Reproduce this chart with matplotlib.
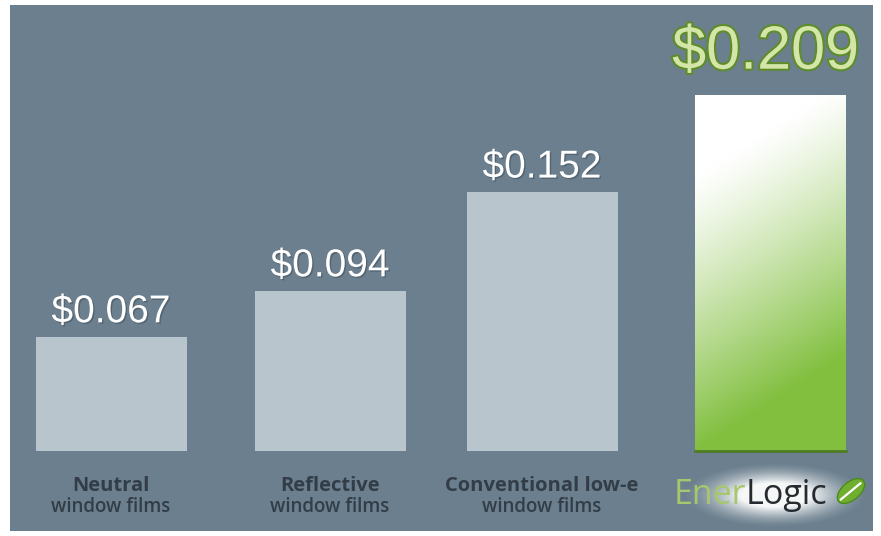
import numpy as np
import matplotlib
matplotlib.use("Agg")
import matplotlib.pyplot as plt
import matplotlib.patheffects as pe
from matplotlib.patches import Ellipse

# data
categories_top = ["Neutral", "Reflective", "Conventional low-e"]
categories_bottom = ["window films", "window films", "window films"]
values = [0.067, 0.094, 0.152, 0.209]
value_labels = ["$0.067", "$0.094", "$0.152", "$0.209"]

bg = "#6b7f8e"
bar_grey = "#b9c5cc"

fig = plt.figure(figsize=(8.81, 5.36), dpi=100)
fig.patch.set_facecolor("white")

W, H = 881, 536
# panel in pixels: x 10..873, y 5..531 (from top)
ax = fig.add_axes([10 / W, (H - 531) / H, 863 / W, 526 / H])
ax.set_facecolor(bg)

# bar centres in pixel units (layout)
x = np.array([111, 330, 542, 770], dtype=float)
px_per_y = 1703.0
xlim = (10, 873)
ylim = (-(531 - 451) / px_per_y, (451 - 5) / px_per_y)
ax.set_xlim(*xlim)
ax.set_ylim(*ylim)
for s in ax.spines.values():
    s.set_visible(False)
ax.set_xticks([])
ax.set_yticks([])

width = 151
bars = ax.bar(x, values, width=width, color=[bar_grey] * 3 + ["none"], edgecolor="none", zorder=2)

# gradient fill for the last bar
b = bars[-1]
gx = np.linspace(0, 1, 60)
gy = np.linspace(0, 1, 200)
GX, GY = np.meshgrid(gx, gy)
t = np.clip(1.3 * GY + 0.35 * GX - 0.3, 0, 1) ** 1.15  # 0 at top-left, 1 at bottom
white = np.array([1.0, 1.0, 1.0])
green = np.array([0.51, 0.75, 0.25])
img = white[None, None, :] * (1 - t[..., None]) + green[None, None, :] * t[..., None]
im = ax.imshow(img, extent=[b.get_x(), b.get_x() + b.get_width(), 0, b.get_height()],
               origin="upper", aspect="auto", zorder=2.5)
im.set_clip_path(b)
ax.plot([b.get_x(), b.get_x() + b.get_width()], [0.0, 0.0], color="#4f7a26", lw=2, zorder=3)

# value labels
for i, (v, lab) in enumerate(zip(values, value_labels)):
    if i < 3:
        ax.annotate(lab, (x[i], v), xytext=(0, 10.5), textcoords="offset points",
                    ha="center", va="baseline", fontsize=28, color="white",
                    family="Liberation Sans", zorder=4,
                    path_effects=[pe.withSimplePatchShadow(offset=(1, -1), shadow_rgbFace="#45535e", alpha=0.6)])
    else:
        ax.annotate(lab, (x[i], v), xytext=(-3, 19), textcoords="offset points",
                    ha="center", va="baseline", fontsize=44, color="#d3e6a8",
                    family="Liberation Sans", zorder=4,
                    path_effects=[pe.Stroke(linewidth=3, foreground="#5e8c2c"), pe.Normal()])

# category labels
cat_color = "#323d47"
for i in range(3):
    ax.annotate(categories_top[i], (x[i], 0), xytext=(0, -25.5), textcoords="offset points",
                ha="center", va="center", fontsize=14.5, fontweight="bold", color=cat_color,
                family="Open Sans")
    ax.annotate(categories_bottom[i], (x[i], 0), xytext=(0, -40.5), textcoords="offset points",
                ha="center", va="center", fontsize=13.5, fontweight="semibold", color=cat_color,
                family="Open Sans")

# EnerLogic logo glow
gxs = np.linspace(-1, 1, 200)
gys = np.linspace(-1, 1, 80)
GXs, GYs = np.meshgrid(gxs, gys)
r2 = GXs ** 2 + GYs ** 2
glow = np.ones((80, 200, 4))
glow[..., 3] = np.clip(1.6 * np.exp(-r2 * 2.8) - 0.15, 0, 1) * 0.95
ax.imshow(glow, extent=[676, 874, -(530 - 451) / px_per_y, -(460 - 451) / px_per_y],
          aspect="auto", zorder=3, interpolation="bilinear")
ax.set_xlim(*xlim)
ax.set_ylim(*ylim)

split = 746
ax.annotate("Ener", (split, 0), xytext=(0, -38.5), textcoords="offset points",
            ha="right", va="baseline", fontsize=24.5, color="#a6c76c", family="Open Sans", zorder=4)
ax.annotate("Logic", (split, 0), xytext=(0, -38.5), textcoords="offset points",
            ha="left", va="baseline", fontsize=24.5, color="#262b30", family="Open Sans", zorder=4)

# leaf icon
lax = fig.add_axes([834 / W, (H - 508) / H, 34 / W, 34 / H])
lax.set_xlim(-1, 1)
lax.set_ylim(-1, 1)
lax.set_aspect("equal")
lax.axis("off")
lax.add_patch(Ellipse((0, 0), 1.9, 1.05, angle=40, facecolor="#6fae2e", edgecolor="#4d8a1c", lw=1))
lax.plot([-0.6, 0.55], [-0.5, 0.45], color="white", lw=1.6)

fig.savefig("out.png", dpi=100, facecolor="white")
